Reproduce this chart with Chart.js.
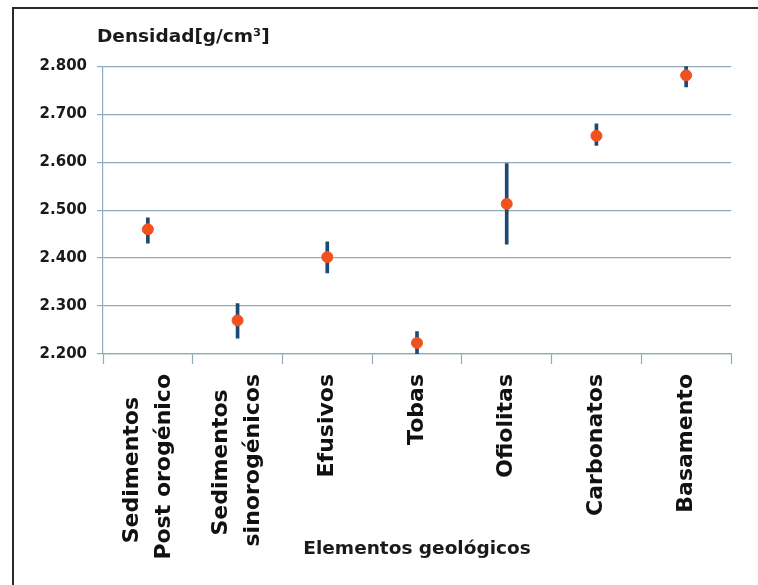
<!DOCTYPE html>
<html>
<head>
<meta charset="utf-8">
<script src="https://cdn.jsdelivr.net/npm/chart.js@4"></script>
<style>
  html, body { margin: 0; padding: 0; background: #fff; overflow: hidden; }
  #wrap { position: relative; width: 758px; height: 585px; }
  #frame { position: absolute; left: 12px; top: 7px; width: 800px; height: 700px;
           border: 2px solid #2a2a2a; pointer-events: none; }
</style>
</head>
<body>
<div id="wrap">
  <canvas id="graph_densidad" width="758" height="585"></canvas>
  <div id="frame"></div>
</div>
<script>
const categories = [
  ["Sedimentos", "Post orogénico"],
  ["Sedimentos", "sinorogénicos"],
  "Efusivos", "Tobas", "Ofiolitas", "Carbonatos", "Basamento"
];
const densidad = [2.460, 2.270, 2.402, 2.223, 2.513, 2.655, 2.781]; // mean density
const rangoMin = [2.431, 2.233, 2.369, 2.198, 2.429, 2.635, 2.757]; // error bar bottom
const rangoMax = [2.484, 2.305, 2.434, 2.247, 2.597, 2.680, 2.800]; // error bar top
const yMin = 2.2, yMax = 2.8, yStep = 0.1;

const labelFont = 'bold 22px "DejaVu Sans"';
const labelLineHeight = 22 * 1.45;
const gridColor = '#93aabb';

// centre the shorter line of a two-line label against the longer one (like Excel does)
const measure = document.createElement('canvas').getContext('2d');
measure.font = labelFont;
function centreLines(lines) {
  if (!Array.isArray(lines)) return lines;
  const widths = lines.map(l => measure.measureText(l).width);
  const maxW = Math.max(...widths);
  const sp = measure.measureText(' ').width;
  return lines.map((l, i) => l + ' '.repeat(Math.round((maxW - widths[i]) / 2 / sp)));
}

const rangos = rangoMin.map((lo, i) => [lo, rangoMax[i]]);

// small tweaks: title starts a bit left of the plot, multi-line tick labels centred on the tick
const tweaks = {
  id: 'tweaks',
  afterLayout(chart) {
    if (chart.titleBlock) chart.titleBlock.left = chart.chartArea.left - 6;
  },
  beforeDraw(chart) {
    const items = chart.scales.x.getLabelItems();
    for (const item of items) {
      if (Array.isArray(item.label) && item.label.length > 1 && !item._moved) {
        item.options.translation[0] -= labelLineHeight * (item.label.length - 1) / 2;
        item._moved = true;
      }
    }
  }
};

const chart = new Chart('graph_densidad', {
  data: {
    labels: categories,
    datasets: [
      {
        type: 'line',
        label: 'Densidad',
        data: densidad,
        showLine: false,
        pointRadius: 5.5,
        pointBackgroundColor: '#f0521f',
        pointBorderColor: '#f0521f',
        order: 0
      },
      {
        type: 'bar',
        label: 'Rango',
        data: rangos,
        backgroundColor: '#1d4a72',
        barThickness: 3,
        order: 1
      }
    ]
  },
  plugins: [tweaks],
  options: {
    responsive: false,
    animation: false,
    layout: { padding: { left: 13, right: 27, top: 26, bottom: 0 } },
    plugins: {
      legend: { display: false },
      tooltip: { enabled: false },
      title: {
        display: true,
        text: 'Densidad[g/cm³]',
        align: 'start',
        color: '#1a1a1a',
        font: { family: 'DejaVu Sans', size: 18.5, weight: 'bold' },
        padding: { top: 0, bottom: 18 }
      }
    },
    scales: {
      x: {
        offset: true,
        grid: { drawOnChartArea: false, offset: true, color: gridColor, tickLength: 10, tickWidth: 1.2 },
        border: { color: gridColor, width: 1.2 },
        ticks: {
          color: '#111',
          font: { family: 'DejaVu Sans', size: 22, weight: 'bold', lineHeight: 1.45 },
          minRotation: 90,
          maxRotation: 90,
          padding: 10,
          autoSkip: false,
          callback: function(value, index) { return centreLines(categories[index]); }
        },
        title: {
          display: true,
          text: 'Elementos geológicos',
          color: '#1a1a1a',
          font: { family: 'DejaVu Sans', size: 18.5, weight: 'bold' },
          padding: { top: 0, bottom: 25 }
        },
        afterFit: function(scale) { scale.height = 231; }
      },
      y: {
        min: yMin,
        max: yMax,
        grid: { color: gridColor, lineWidth: 1.2, tickLength: 6 },
        border: { color: gridColor, width: 1.2 },
        ticks: {
          stepSize: yStep,
          color: '#1a1a1a',
          padding: 10,
          font: { family: 'DejaVu Sans', size: 15, weight: 'bold' },
          callback: function(value) { return value.toFixed(3); }
        },
        afterFit: function(scale) { scale.width = 90; }
      }
    }
  }
});
</script>
</body>
</html>
